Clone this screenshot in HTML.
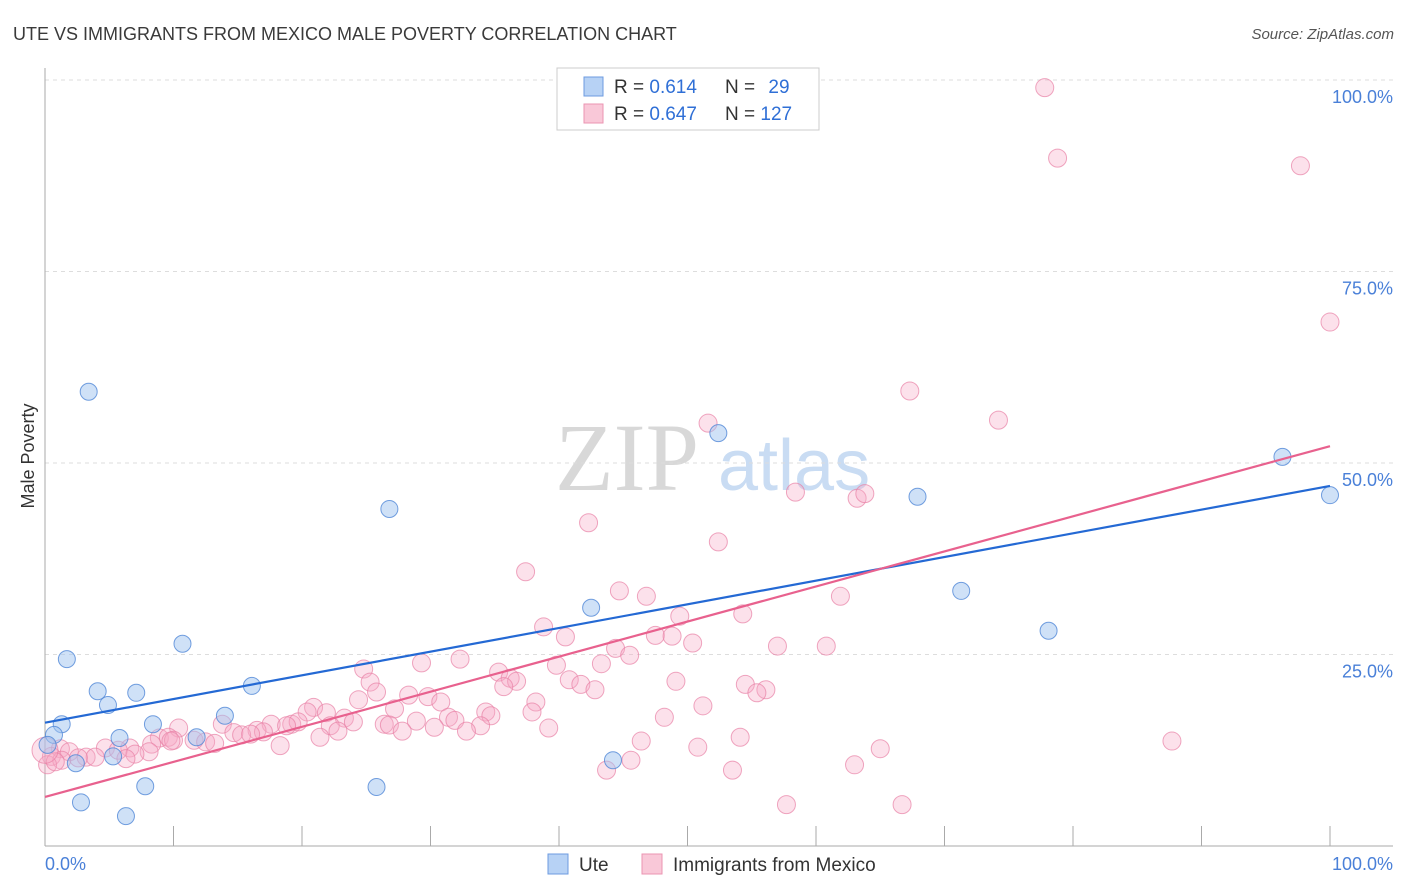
<!DOCTYPE html>
<html><head><meta charset="utf-8"><style>
body{margin:0;background:#fff;font-family:"Liberation Sans",sans-serif;}
svg{display:block}
</style></head><body>
<svg id="chart" width="1406" height="892" xmlns="http://www.w3.org/2000/svg">
<text x="13" y="40" font-size="18" fill="#3a3a3a">UTE VS IMMIGRANTS FROM MEXICO MALE POVERTY CORRELATION CHART</text>
<text x="1394" y="39" font-size="15" font-style="italic" fill="#555" text-anchor="end">Source: ZipAtlas.com</text>
<g>
<text x="555" y="490" font-family="Liberation Serif,serif" font-size="96" fill="#d8d8d8">ZIP</text>
<text x="718" y="490" font-size="72" fill="#c9dcf3">atlas</text>
</g>
<g id="grid"></g>
<g id="axes"></g>
<text transform="translate(34,456) rotate(-90)" font-size="18" fill="#333" text-anchor="middle">Male Poverty</text>
<g id="pts"></g>
<g id="lines"></g>
<g>
<rect x="557" y="68" width="262" height="62" fill="#fff" stroke="#ccc"/>
<rect x="584" y="77" width="19" height="19" fill="#b7d2f5" stroke="#6d9be0"/>
<rect x="584" y="104" width="19" height="19" fill="#f9c8d8" stroke="#eb94b2"/>
<text x="614" y="93" font-size="19" fill="#333">R = <tspan fill="#2f6fd6">0.614</tspan></text>
<text x="725" y="93" font-size="19" fill="#333">N = <tspan fill="#2f6fd6" dx="8">29</tspan></text>
<text x="614" y="120" font-size="19" fill="#333">R = <tspan fill="#2f6fd6">0.647</tspan></text>
<text x="725" y="120" font-size="19" fill="#333">N = <tspan fill="#2f6fd6">127</tspan></text>
</g>
<g>
<rect x="548" y="854" width="20" height="20" fill="#b7d2f5" stroke="#6d9be0"/>
<text x="579" y="871" font-size="19" fill="#333">Ute</text>
<rect x="642" y="854" width="20" height="20" fill="#f9c8d8" stroke="#eb94b2"/>
<text x="673" y="871" font-size="19" fill="#333">Immigrants from Mexico</text>
</g>
</svg>
<script>
const yTicks=[25,50,75,100];
const yTickLabels=["25.0%","50.0%","75.0%","100.0%"];
const xEndLabels=["0.0%","100.0%"];
const uteX=[3.4,1.7,4.1,4.9,7.1,1.3,0.7,0.2,2.4,5.3,5.8,8.4,11.8,14.0,16.1,10.7,2.8,7.8,6.3,26.8,25.8,42.5,44.2,52.4,67.9,71.3,78.1,96.3,100];
const uteY=[59.3,24.4,20.2,18.4,20.0,15.9,14.5,13.2,10.8,11.7,14.1,15.9,14.2,17.0,20.9,26.4,5.7,7.8,3.9,44.0,7.7,31.1,11.2,53.9,45.6,33.3,28.1,50.8,45.8];
const mexX=[77.8,78.8,97.7,100,67.3,74.2,51.6,58.4,63.2,63.8,42.3,52.4,37.4,44.7,46.8,61.9,54.3,49.4,38.8,40.5,47.5,48.8,50.4,44.4,57.0,60.8,45.5,32.3,29.3,39.8,43.3,24.8,35.3,36.2,36.7,25.3,40.8,41.7,49.1,54.5,56.1,55.4,42.8,35.7,25.8,28.3,29.8,24.4,30.8,38.2,27.2,51.2,20.9,21.9,34.3,37.9,34.7,20.4,23.3,24.0,31.4,31.9,48.2,28.9,17.6,19.2,19.7,18.8,22.2,26.4,26.8,13.8,10.4,30.3,33.9,32.8,39.2,27.8,16.5,17.0,21.4,22.8,14.7,15.3,16.0,8.9,9.6,10.0,11.6,12.5,13.2,8.3,9.8,46.4,54.1,18.3,6.6,4.7,5.7,8.1,7.0,50.8,65.0,87.7,1.2,1.9,0.5,3.2,3.9,2.6,6.3,1.3,0.2,0.8,45.6,43.7,53.5,63.0,57.7,66.7,0];
const mexY=[99.0,89.8,88.8,68.4,59.4,55.6,55.2,46.2,45.4,46.0,42.2,39.7,35.8,33.3,32.6,32.6,30.3,30.0,28.6,27.3,27.5,27.4,26.5,25.8,26.1,26.1,24.9,24.4,23.9,23.6,23.8,23.1,22.7,21.9,21.5,21.4,21.7,21.1,21.5,21.1,20.4,20.0,20.4,20.8,20.1,19.7,19.5,19.1,18.8,18.8,17.9,18.3,18.1,17.4,17.5,17.5,17.0,17.5,16.7,16.2,16.8,16.4,16.8,16.3,15.9,15.9,16.2,15.7,15.7,15.9,15.8,15.9,15.4,15.5,15.7,15.0,15.4,15.0,15.1,14.9,14.2,15.0,14.8,14.5,14.6,14.1,14.2,13.8,13.8,13.6,13.4,13.3,13.7,13.7,14.2,13.1,12.8,12.8,12.5,12.3,12.0,12.9,12.7,13.7,12.7,12.3,11.7,11.6,11.6,11.5,11.4,11.2,10.6,11.0,11.2,9.9,9.9,10.6,5.4,5.4,12.5];
const uteFit=[16.1,47.0];
const mexFit=[6.4,52.2];
const NS="http://www.w3.org/2000/svg";
const X=v=>45+v*12.85, Y=v=>846-v*7.66;
function mk(tag,attrs,parent){const e=document.createElementNS(NS,tag);for(const k in attrs)e.setAttribute(k,attrs[k]);parent.appendChild(e);return e;}
const grid=document.getElementById('grid'),axes=document.getElementById('axes'),pts=document.getElementById('pts'),lines=document.getElementById('lines');
yTicks.forEach((t,i)=>{
 const l=mk('line',{x1:45,x2:1393,y1:Y(t),y2:Y(t),stroke:'#ddd','stroke-dasharray':'4,4'},grid);
 
 
 const tx=mk('text',{x:1393,y:Y(t)+23,'font-size':18,fill:'#4a80d8','text-anchor':'end'},axes);
 tx.textContent=yTickLabels[i];
 
 
});
let a=mk('line',{x1:45,x2:45,y1:68,y2:846,stroke:'#aaa'},axes);


a=mk('line',{x1:45,x2:1393,y1:846,y2:846,stroke:'#aaa'},axes);


for(let i=0;i<=10;i++){const t=mk('line',{x1:X(i*10),x2:X(i*10),y1:826,y2:846,stroke:'#aaa'},axes);
 
 }
let t0=mk('text',{x:45,y:870,'font-size':18,fill:'#4a80d8'},axes);t0.textContent=xEndLabels[0];


t0=mk('text',{x:1393,y:870,'font-size':18,fill:'#4a80d8','text-anchor':'end'},axes);t0.textContent=xEndLabels[1];


mexX.forEach((x,i)=>{const c=mk('circle',{cx:X(x),cy:Y(mexY[i]),r:i==mexX.length-1?13:9,fill:'rgba(246,170,198,0.35)',stroke:'rgba(232,128,165,0.7)','stroke-width':1},pts);
 
 });
uteX.forEach((x,i)=>{const c=mk('circle',{cx:X(x),cy:Y(uteY[i]),r:8.5,fill:'rgba(160,196,240,0.5)',stroke:'rgba(80,135,215,0.8)','stroke-width':1},pts);
 
 });
let f=mk('line',{x1:X(0),y1:Y(uteFit[0]),x2:X(100),y2:Y(uteFit[1]),stroke:'#2469d4','stroke-width':2.2},lines);


f=mk('line',{x1:X(0),y1:Y(mexFit[0]),x2:X(100),y2:Y(mexFit[1]),stroke:'#e8618e','stroke-width':2.2},lines);


</script>
</body></html>
